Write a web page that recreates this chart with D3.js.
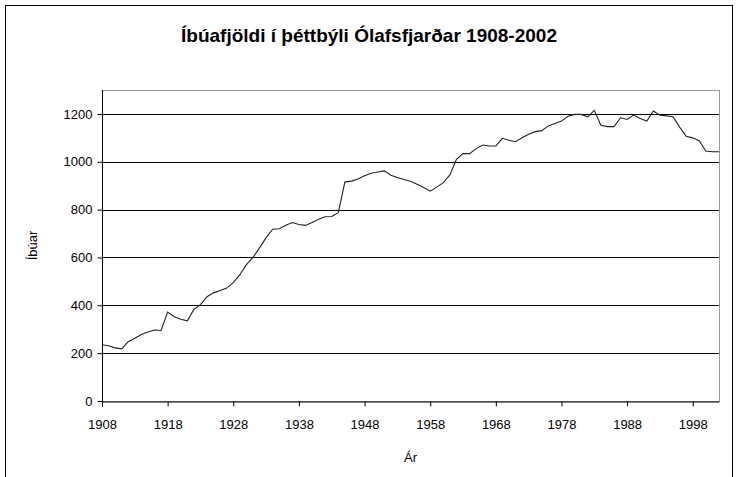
<!DOCTYPE html>
<html>
<head>
<meta charset="utf-8">
<script src="https://cdn.jsdelivr.net/npm/d3@7"></script>
<style>
  body { margin: 0; background: #fff; }
  svg text { font-family: "Liberation Sans", Arial, sans-serif; fill: #000; }
</style>
</head>
<body>
<div id="chart"></div>
<script>
// Íbúafjöldi í þéttbýli Ólafsfjarðar, one value per year
const years = d3.range(1908, 2003);
const residents = [
    235, 231, 222, 218, 248, 262, 278, 288, 297, 295,   // 1908-1917
    372, 352, 342, 335, 383, 403, 436, 452, 462, 472,   // 1918-1927
    495, 528, 570, 600, 640, 683, 718, 720, 735, 746,   // 1928-1937
    738, 734, 746, 760, 770, 771, 787, 915, 919, 928,   // 1938-1947
    942, 952, 957, 962, 944, 934, 926, 919, 906, 892,   // 1948-1957
    877, 894, 913, 945, 1010, 1034, 1034, 1055, 1070, 1066, // 1958-1967
    1066, 1098, 1090, 1084, 1100, 1115, 1126, 1130, 1150, 1160, // 1968-1977
    1170, 1190, 1198, 1198, 1188, 1215, 1153, 1147, 1147, 1184, // 1978-1987
    1177, 1195, 1181, 1170, 1212, 1195, 1192, 1188, 1145, 1107, // 1988-1997
    1100, 1087, 1045, 1042, 1042                          // 1998-2002
];
const yTicks = [0, 200, 400, 600, 800, 1000, 1200];
const xTicks = [1908, 1918, 1928, 1938, 1948, 1958, 1968, 1978, 1988, 1998];

const title = 'Íbúafjöldi í þéttbýli Ólafsfjarðar 1908-2002';
const xTitle = 'Ár';
const yTitle = 'Íbúar';

const width = 736;
const height = 477;
const plot = { left: 102, top: 90, right: 719, bottom: 401 };

const svg = d3.select('#chart')
    .append('svg')
    .attr('width', width)
    .attr('height', height);

// chart border (runs off the bottom of the picture)
svg.append('rect')
    .attr('x', 5.5)
    .attr('y', 5.5)
    .attr('width', 727)
    .attr('height', 500)
    .attr('fill', '#fff')
    .attr('stroke', '#000')
    .attr('stroke-width', 1);

const x = d3.scaleLinear()
    .domain([1908, 2002])
    .range([plot.left, plot.right]);

const y = d3.scaleLinear()
    .domain([0, 1300])
    .range([plot.bottom, plot.top]);

// plot area
svg.append('rect')
    .attr('x', plot.left + 0.5)
    .attr('y', plot.top + 0.5)
    .attr('width', plot.right - plot.left)
    .attr('height', plot.bottom - plot.top)
    .attr('fill', '#fff')
    .attr('stroke', '#9a9a9a')
    .attr('stroke-width', 1);

// gridlines
svg.append('g')
    .selectAll('line')
    .data(yTicks.filter(d => d > 0))
    .join('line')
    .attr('x1', plot.left)
    .attr('x2', plot.right)
    .attr('y1', d => Math.round(y(d)) + 0.5)
    .attr('y2', d => Math.round(y(d)) + 0.5)
    .attr('stroke', '#000')
    .attr('stroke-width', 1);

// y axis
const yAxis = svg.append('g')
    .attr('transform', `translate(${plot.left + 0.5},0)`)
    .call(d3.axisLeft(y).tickValues(yTicks).tickFormat(d3.format('d'))
        .tickSize(5).tickPadding(5).tickSizeOuter(0));
yAxis.select('.domain').attr('d', `M0,${plot.top}V${plot.bottom + 0.5}`);
yAxis.selectAll('text').style('font-size', '13px');

// x axis
const xAxis = svg.append('g')
    .attr('transform', `translate(0,${plot.bottom + 0.5})`)
    .call(d3.axisBottom(x).tickValues(xTicks).tickFormat(d3.format('d'))
        .tickSize(5).tickPadding(13).tickSizeOuter(0));
xAxis.selectAll('text').style('font-size', '13px');

// population line
const line = d3.line()
    .x((d, i) => x(years[i]))
    .y(d => y(d));

svg.append('path')
    .datum(residents)
    .attr('d', line)
    .attr('fill', 'none')
    .attr('stroke', '#222')
    .attr('stroke-width', 1.1);

// titles
svg.append('text')
    .attr('x', 369)
    .attr('y', 42)
    .attr('text-anchor', 'middle')
    .style('font-size', '19px')
    .style('font-weight', 'bold')
    .text(title);

svg.append('text')
    .attr('x', (plot.left + plot.right) / 2)
    .attr('y', 462)
    .attr('text-anchor', 'middle')
    .style('font-size', '13px')
    .text(xTitle);

svg.append('text')
    .attr('transform', `translate(37,${(plot.top + plot.bottom) / 2}) rotate(-90)`)
    .attr('text-anchor', 'middle')
    .style('font-size', '13px')
    .text(yTitle);
</script>
</body>
</html>
